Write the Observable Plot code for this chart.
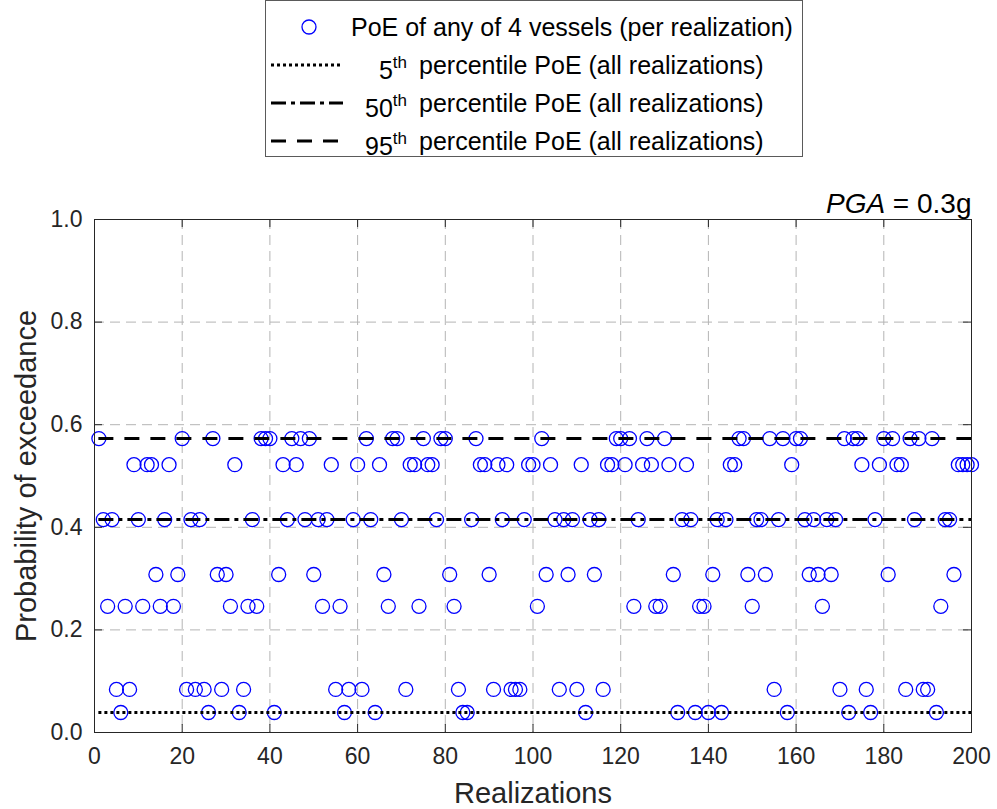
<!DOCTYPE html>
<html>
<head>
<meta charset="utf-8">
<script src="https://cdn.jsdelivr.net/npm/d3@7"></script>
<script src="https://cdn.jsdelivr.net/npm/@observablehq/plot@0.6"></script>
<style>
  body { margin: 0; background: #fff; font-family: "Liberation Sans", Arial, Helvetica, sans-serif; }
  #wrap { position: relative; width: 997px; height: 809px; overflow: hidden; background: #fff; }
  #header { position: relative; width: 997px; height: 176px; }
  #legend { position: absolute; left: 265px; top: 0; width: 538px; height: 157px; box-sizing: border-box;
            border: 1px solid #5a5a5a; background: #fff; color: #000; font-size: 25px; }
  .row { position: absolute; left: 0; width: 100%; height: 34px; }
  .row svg { position: absolute; left: 5px; top: 0; }
  .txt { position: absolute; top: 0; line-height: 34px; white-space: nowrap; }
  .num { position: absolute; top: 0; line-height: 34px; left: 91px; width: 50px; text-align: right; white-space: nowrap; }
  .num sup { font-size: 17px; position: relative; top: -2px; }
  #chart svg { display: block; }
</style>
</head>
<body>
<div id="wrap">
  <div id="header"><div id="legend"></div></div>
  <div id="chart"></div>
</div>
<script>
// ---------------- data ----------------
const poe = [
  0.573,0.415,0.246,0.415,0.084,0.039,0.246,0.084,0.522,0.415,
  0.246,0.522,0.522,0.308,0.246,0.415,0.522,0.246,0.308,0.573,
  0.084,0.415,0.084,0.415,0.084,0.039,0.573,0.308,0.084,0.308,
  0.246,0.522,0.039,0.084,0.246,0.415,0.246,0.573,0.573,0.573,
  0.039,0.308,0.522,0.415,0.573,0.522,0.573,0.415,0.573,0.308,
  0.415,0.246,0.415,0.522,0.084,0.246,0.039,0.084,0.415,0.522,
  0.084,0.573,0.415,0.039,0.522,0.308,0.246,0.573,0.573,0.415,
  0.084,0.522,0.522,0.246,0.573,0.522,0.522,0.415,0.573,0.573,
  0.308,0.246,0.084,0.039,0.039,0.415,0.573,0.522,0.522,0.308,
  0.084,0.522,0.415,0.522,0.084,0.084,0.084,0.415,0.522,0.522,
  0.246,0.573,0.308,0.522,0.415,0.084,0.415,0.308,0.415,0.084,
  0.522,0.039,0.415,0.308,0.415,0.084,0.522,0.522,0.573,0.573,
  0.522,0.573,0.246,0.415,0.522,0.573,0.522,0.246,0.246,0.573,
  0.522,0.308,0.039,0.415,0.522,0.415,0.039,0.246,0.246,0.039,
  0.308,0.415,0.039,0.415,0.522,0.522,0.573,0.573,0.308,0.246,
  0.415,0.415,0.308,0.573,0.084,0.415,0.573,0.039,0.522,0.573,
  0.573,0.415,0.308,0.415,0.308,0.246,0.415,0.308,0.415,0.084,
  0.573,0.039,0.573,0.573,0.522,0.084,0.039,0.415,0.522,0.573,
  0.308,0.573,0.522,0.522,0.084,0.573,0.415,0.573,0.084,0.084,
  0.573,0.039,0.246,0.415,0.415,0.308,0.522,0.522,0.522,0.522
];
const realizations = poe.map((_, i) => i + 1);

const percentileNames  = ["5", "50", "95"];
const percentileValues = [0.039, 0.415, 0.573];

const xTicks = [0, 20, 40, 60, 80, 100, 120, 140, 160, 180, 200];
const yTicks = [0, 0.2, 0.4, 0.6, 0.8, 1.0];

const xLabel = "Realizations";
const yLabel = "Probability of exceedance";
const pgaVar = "PGA";
const pgaValue = " = 0.3g";
const seriesLabel = "PoE of any of 4 vessels (per realization)";
const percentileText = "percentile PoE (all realizations)";

// ---------------- styles ----------------
const blue = "#0000ff";
const dashes = { "5": "3,3", "50": "15,5,4,5", "95": "15,11" };

// ---------------- legend (HTML) ----------------
const legend = document.getElementById("legend");
const rowCenters = [27, 65, 103, 141];
function addRow(i, sampleSvg, html) {
  const row = document.createElement("div");
  row.className = "row";
  row.style.top = (rowCenters[i] - 17 - 1) + "px";
  row.innerHTML = sampleSvg + html;
  legend.appendChild(row);
}
addRow(0,
  `<svg width="74" height="34"><circle cx="38" cy="17" r="7" fill="none" stroke="${blue}" stroke-width="1.3"/></svg>`,
  `<span class="txt" style="left:85px">${seriesLabel}</span>`);
percentileNames.forEach((p, k) => {
  addRow(k + 1,
    `<svg width="74" height="34"><line x1="0" x2="72" y1="17" y2="17" stroke="#000" stroke-width="3" stroke-dasharray="${dashes[p]}"/></svg>`,
    `<span class="num">${p}<sup>th</sup></span><span class="txt" style="left:153px">${percentileText}</span>`);
});

// ---------------- chart ----------------
const data = realizations.map((r, i) => ({ r, v: poe[i] }));
const [xMin, xMax] = d3.extent(realizations);
const pct = percentileNames.map((p, i) => ({ p, v: percentileValues[i] }));

const W = 997, H = 633, mT = 43, mB = 77, mL = 94, mR = 26;
const plotW = W - mL - mR, plotH = H - mT - mB;
const tickLen = 8;
const gridStyle = { stroke: "#b4b4b4", strokeOpacity: 1, strokeWidth: 1, strokeDasharray: "10,6" };
const axisColor = "#262626";

const chart = Plot.plot({
  width: W, height: H,
  marginTop: mT, marginBottom: mB, marginLeft: mL, marginRight: mR,
  style: { fontFamily: "'Liberation Sans', Arial, Helvetica, sans-serif", color: axisColor, background: "#fff", overflow: "visible" },
  x: { domain: [0, 200] },
  y: { domain: [0, 1] },
  marks: [
    Plot.gridX(xTicks, gridStyle),
    Plot.gridY(yTicks, gridStyle),
    Plot.dot(data, { x: "r", y: "v", r: 7, stroke: blue, strokeWidth: 1.3, fill: "none" }),
    ...pct.map(d => Plot.ruleY([d], { y: "v", x1: () => xMin, x2: () => xMax, stroke: "#000", strokeWidth: 3, strokeDasharray: dashes[d.p] })),
    Plot.frame({ stroke: axisColor, strokeWidth: 1 }),
    Plot.tickX(xTicks, { x: d => d, insetTop: plotH - tickLen, stroke: axisColor }),
    Plot.tickX(xTicks, { x: d => d, insetBottom: plotH - tickLen, stroke: axisColor }),
    Plot.tickY(yTicks, { y: d => d, insetRight: plotW - tickLen, stroke: axisColor }),
    Plot.tickY(yTicks, { y: d => d, insetLeft: plotW - tickLen, stroke: axisColor }),
    Plot.axisX(xTicks, { tickSize: 0, tickPadding: 15, fontSize: 23, label: null, tickFormat: d => String(d) }),
    Plot.axisY(yTicks, { tickSize: 0, tickPadding: 12, fontSize: 23, label: null, tickFormat: d3.format(".1f") }),
    Plot.text([xLabel], { text: d => d, frameAnchor: "bottom", lineAnchor: "middle", textAnchor: "middle", dy: 61, fontSize: 29, fill: axisColor }),
    Plot.text([yLabel], { text: d => d, frameAnchor: "left", lineAnchor: "middle", textAnchor: "middle", dx: -68, rotate: -90, fontSize: 29, fill: axisColor }),
    Plot.text([pgaVar + pgaValue], { text: d => d, frameAnchor: "top-right", lineAnchor: "middle", textAnchor: "end", dy: -15, fontSize: 28, fill: "#000" })
  ]
});

d3.select(chart).selectAll("text")
  .filter(function () { return this.textContent === pgaVar + pgaValue; })
  .each(function () {
    const t = d3.select(this);
    t.text(null);
    t.append("tspan").attr("font-style", "italic").text(pgaVar);
    t.append("tspan").text(pgaValue);
  });

document.getElementById("chart").appendChild(chart);
</script>
</body>
</html>
